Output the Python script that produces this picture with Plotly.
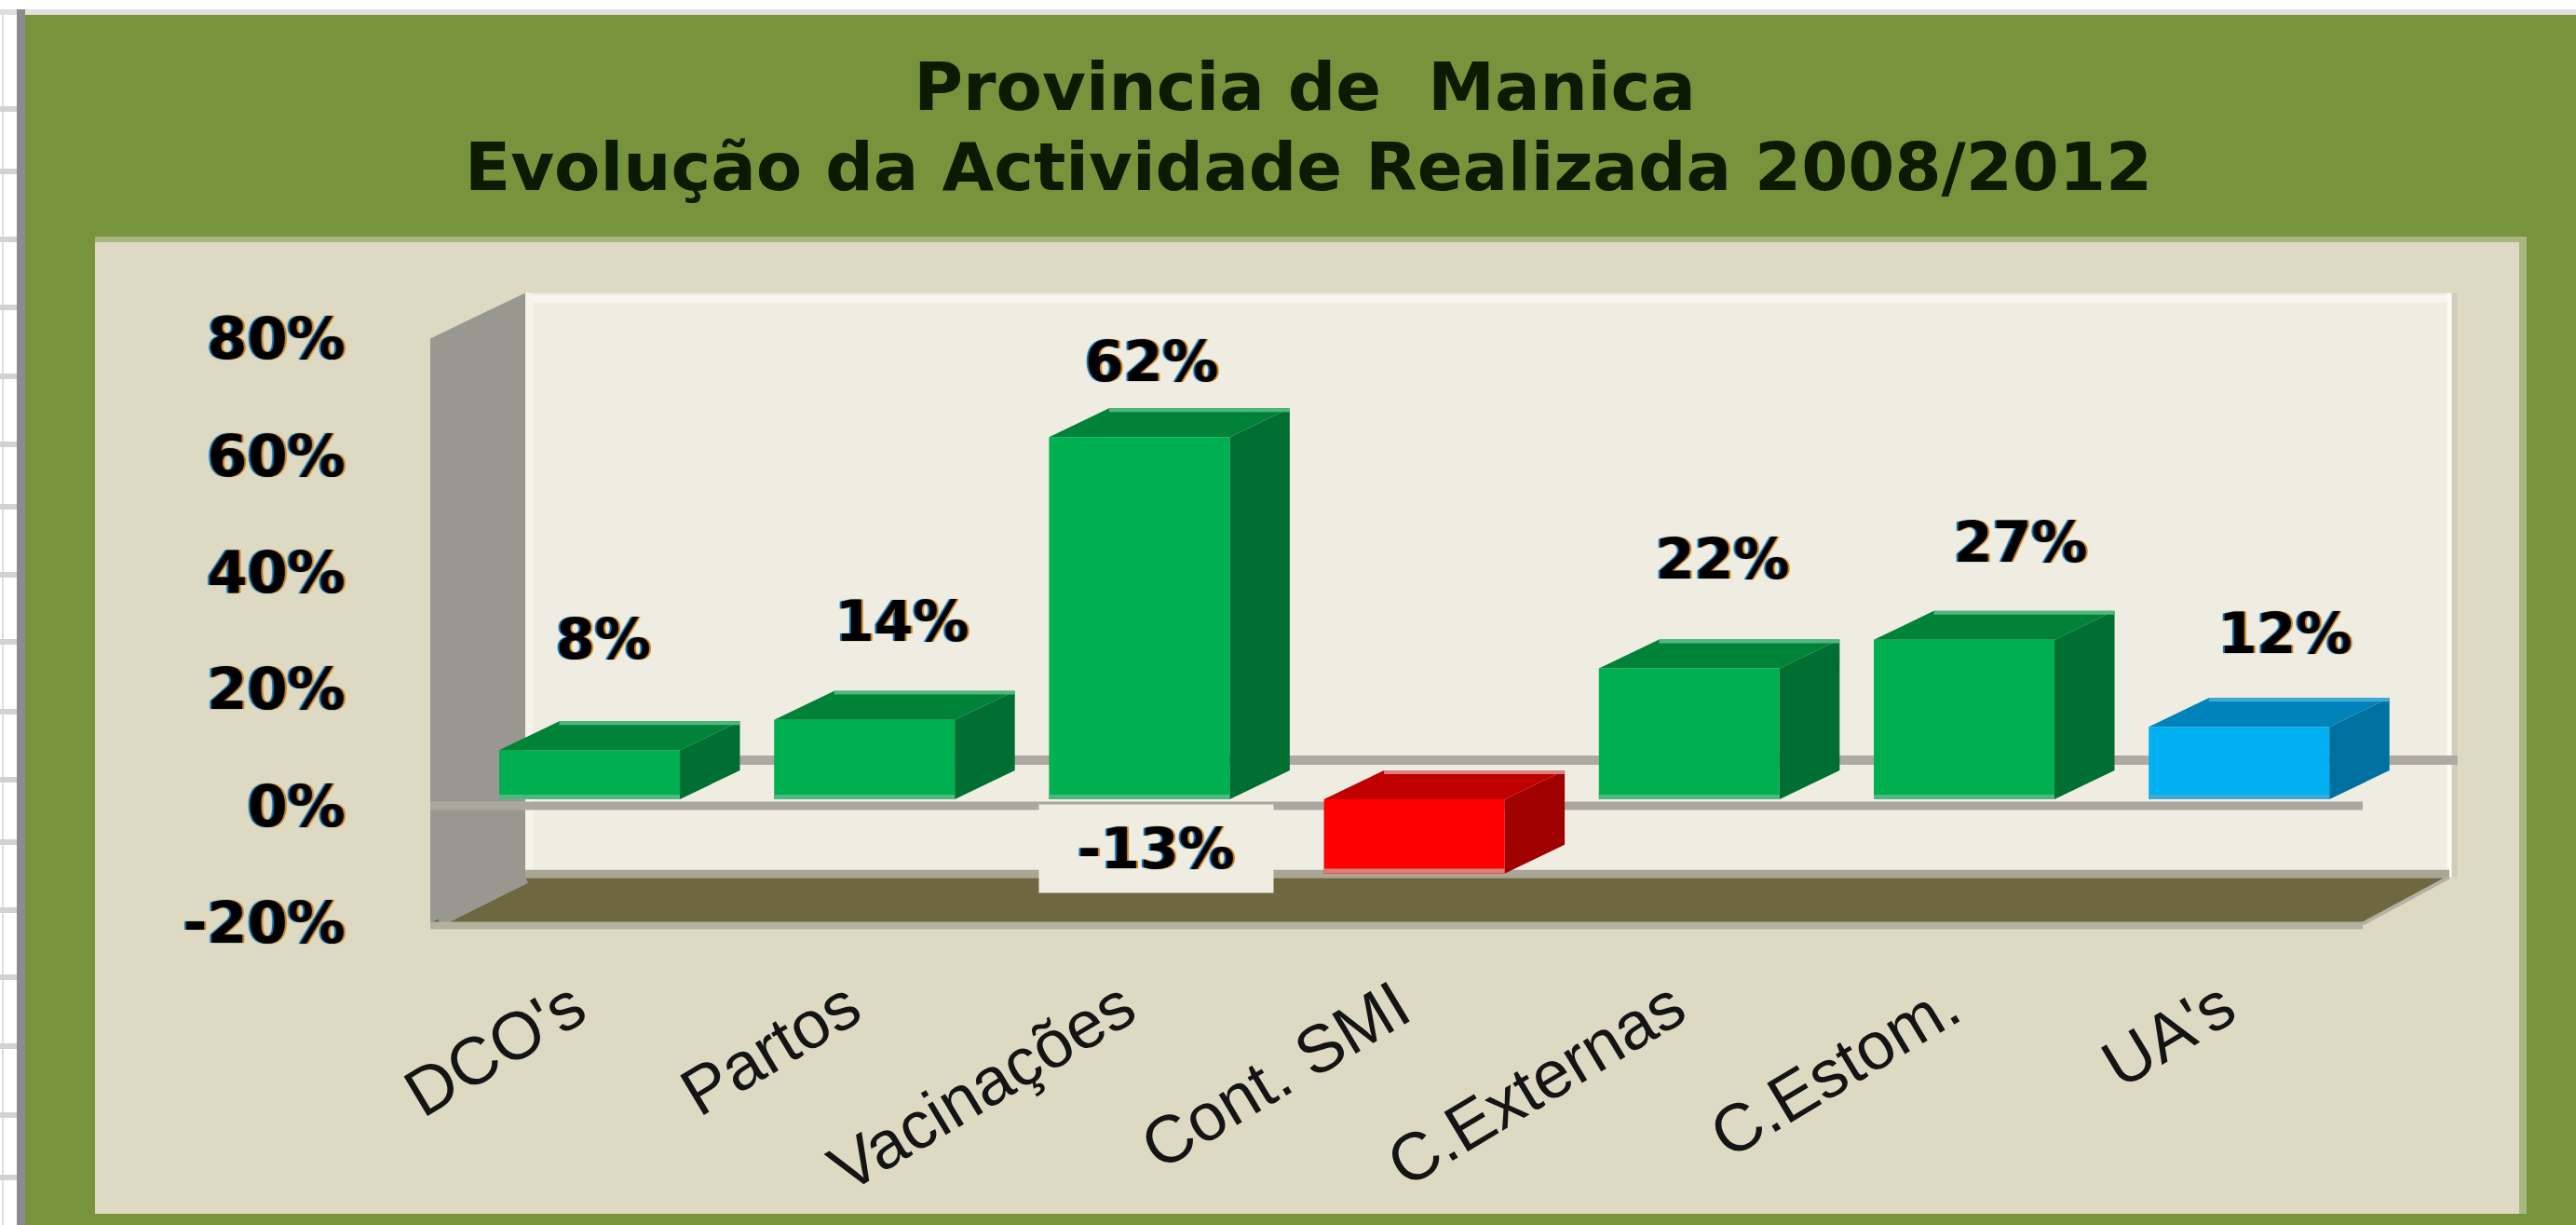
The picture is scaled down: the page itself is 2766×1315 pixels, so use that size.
import plotly.graph_objects as go

# ---- data -------------------------------------------------------------
categories = ["DCO's", "Partos", "Vacinações", "Cont. SMI", "C.Externas", "C.Estom.", "UA's"]
values = [8.4, 13.6, 62, -12.7, 22.4, 27.3, 12.4]
front_colors = ["#00b050", "#00b050", "#00b050", "#ff0000", "#00b050", "#00b050", "#00b0f0"]
top_colors = ["#008239", "#008239", "#008239", "#c00000", "#008239", "#008239", "#0082bb"]
side_colors = ["#006f31", "#006f31", "#006f31", "#a00000", "#006f31", "#006f31", "#0070a0"]
edge_colors = ["#4fb87e", "#4fb87e", "#4fb87e", "#d9807a", "#4fb87e", "#4fb87e", "#3fa8d4"]
y_ticks = [-20, 0, 20, 40, 60, 80]
y_tick_labels = ["-20%", "0%", "20%", "40%", "60%", "80%"]
title_lines = ["Provincia de  Manica", "Evolução da Actividade Realizada 2008/2012"]
label_xshift = [15, 41, 14, -277, 36, 61, 50]
label_yshift = [119, 106, 81, 27, 118, 105, 100]
sheet_grid_rows = [117, 184, 257, 330, 404, 477, 544, 617, 689, 764, 837, 904, 977, 1049, 1123, 1197, 1264]

# ---- geometry ----------------------------------------------------------
W, H = 2766, 1315
PITCH = 295.2      # px per category
CX0 = 633          # px of first category centre
PPU = 6.27         # px per percentage point
Y0_WALL = 865      # px of 0% in the front plane of the axes
Y0_BAR = 858       # px of 0% in the front plane of the bars
BAR_W = 194 / PITCH
BAR_DX, BAR_DY = 64.5 / PITCH, 31 / PPU
WALL_DX, WALL_DY = 102 / PITCH, 49 / PPU
X_LEFT = (462 - CX0) / PITCH
X_RIGHT = (2537 - CX0) / PITCH
YMIN, YMAX = y_ticks[0], y_ticks[-1]
TICK_SHIFT = 0.06

GREEN, PANEL, WALL, SIDE, FLOOR = "#77933c", "#ddd9c3", "#efede2", "#989890", "#6f6740"
TEXT_FRINGE = "2px 0 1px #c47a10, -2px 0 1px #0a6aa8"
TITLE_FONT = dict(family="DejaVu Sans", size=72, color="#0c1a02", weight="bold")


def px(a, b, c, d, color, layer="below"):
    return dict(type="rect", xref="paper", yref="paper", x0=a / W, x1=b / W,
                y0=1 - c / H, y1=1 - d / H, fillcolor=color, line_width=0, layer=layer)


def poly(xs, ys, color, yaxis="y"):
    return go.Scatter(x=xs + xs[:1], y=ys + ys[:1], mode="lines", fill="toself", fillcolor=color,
                      line=dict(width=0, color=color), hoverinfo="skip", showlegend=False,
                      xaxis="x", yaxis=yaxis)


def seg(x0, x1, y0, y1, color, width, yaxis="y"):
    return go.Scatter(x=[x0, x1], y=[y0, y1], mode="lines", line=dict(color=color, width=width),
                      hoverinfo="skip", showlegend=False, xaxis="x", yaxis=yaxis)


fig = go.Figure()

# chart walls, derived from the value axis limits
bx0, bx1 = X_LEFT + WALL_DX, X_RIGHT + (2630 - 2537 - 102) / PITCH + WALL_DX
fig.add_trace(poly([bx0, bx1, bx1, bx0], [YMIN + WALL_DY, YMIN + WALL_DY, YMAX + WALL_DY, YMAX + WALL_DY], WALL))
fig.add_trace(seg(bx0, bx1, YMAX + WALL_DY - 1, YMAX + WALL_DY - 1, "#f7f5ee", 8))
fig.add_trace(seg(bx1, bx1, YMIN + WALL_DY, YMAX + WALL_DY, "#fbfaf5", 5))
fig.add_trace(seg(bx1 + 0.02, bx1 + 0.02, YMIN + WALL_DY, YMAX + WALL_DY, "#d0cdbd", 6))
fig.add_trace(poly([X_LEFT, bx0, bx0, X_LEFT], [YMIN, YMIN + WALL_DY, YMAX + WALL_DY, YMAX], SIDE))
fig.add_trace(seg(bx0 + 0.014, bx0 + 0.014, YMIN + WALL_DY, YMAX + WALL_DY, "#f6f4ea", 8))
fig.add_trace(poly([X_LEFT, bx0, bx1, X_RIGHT], [YMIN, YMIN + WALL_DY, YMIN + WALL_DY, YMIN], FLOOR))
fig.add_trace(seg(X_LEFT + 0.03, bx0, YMIN + 0.4, YMIN + WALL_DY, SIDE, 14))
fig.add_trace(seg(bx0, bx1, YMIN + WALL_DY + 0.5, YMIN + WALL_DY + 0.5, "#aaa695", 9))
fig.add_trace(seg(X_LEFT, X_RIGHT, YMIN - 0.5, YMIN - 0.5, "#b5b1a0", 8))
fig.add_trace(seg(X_RIGHT, bx1, YMIN - 0.2, YMIN + WALL_DY, "#b5b1a0", 4))

# zero gridline on back wall and front plane
fig.add_trace(seg(bx0, bx1 + 0.03, WALL_DY, WALL_DY, "#aeaaa1", 10))
fig.add_trace(seg(X_LEFT, X_RIGHT, 0, 0, "#aba79f", 9))

# bars: sides and tops from the values
for i, v in enumerate(values):
    x0, x1 = i - BAR_W / 2, i + BAR_W / 2
    hi, lo = max(v, 0), min(v, 0)
    fig.add_trace(poly([x1, x1 + BAR_DX, x1 + BAR_DX, x1], [hi, hi + BAR_DY, lo + BAR_DY, lo], side_colors[i], "y2"))
    fig.add_trace(poly([x0, x1, x1 + BAR_DX, x0 + BAR_DX], [hi, hi, hi + BAR_DY, hi + BAR_DY], top_colors[i], "y2"))
    fig.add_trace(seg(x0 + BAR_DX, x1 + BAR_DX, hi + BAR_DY - 0.3, hi + BAR_DY - 0.3, edge_colors[i], 4, "y2"))
    fig.add_trace(seg(x0, x1, lo + 0.4, lo + 0.4, edge_colors[i], 5, "y2"))

fig.add_trace(go.Bar(x=list(range(len(categories))), y=values, width=BAR_W, marker=dict(color=front_colors, line_width=0),
                     xaxis="x", yaxis="y2", showlegend=False, hoverinfo="skip"))

# data labels
annotations = []
for i, v in enumerate(values):
    extra = dict(bgcolor=WALL, width=249, height=92, valign="middle") if v < 0 else {}
    annotations.append(dict(x=i, y=v, xref="x", yref="y2", text=f"{round(v)}%", showarrow=False,
                            xshift=label_xshift[i], yshift=label_yshift[i], xanchor="center", yanchor="middle",
                            font=dict(family="DejaVu Sans", size=60, color="#000000", weight="bold", shadow=TEXT_FRINGE), **extra))
annotations.append(dict(xref="paper", yref="paper", x=1405 / W, y=1 - 179 / H, text=title_lines[1], showarrow=False,
                        xanchor="center", yanchor="middle", font=TITLE_FONT))

shapes = [
    px(0, W, 0, H, "#ffffff"),
    px(0, W, 10, 16, "#dedede"),
    px(2, 4, 10, H, "#dedede"),
    px(18, 27, 10, H, "#8c8c8c"),
    px(27, W, 16, H, GREEN),
    px(102, 2713, 254, 1303, "#a7b77f"),
    px(102, 2705, 260, 1303, PANEL),
]
shapes += [px(0, 18, r - 3, r + 3, "#d2d2d2") for r in sheet_grid_rows]

fig.update_layout(
    width=W, height=H, margin=dict(l=0, r=0, t=0, b=0, pad=0), autosize=False,
    paper_bgcolor="#ffffff", plot_bgcolor="rgba(0,0,0,0)", showlegend=False, barmode="overlay",
    shapes=shapes, annotations=annotations,
    title=dict(text=title_lines[0], x=1401 / W, xanchor="center", y=1 - 93 / H, yanchor="middle", font=TITLE_FONT),
    xaxis=dict(domain=[0, 1], range=[(0 - CX0) / PITCH, (W - CX0) / PITCH], tickmode="array",
               tickvals=[i - TICK_SHIFT for i in range(len(categories))], ticktext=categories, tickangle=-31,
               showgrid=False, zeroline=False, showline=False, ticks="", anchor="free",
               position=1 - 991 / H, ticklabelstandoff=34,
               tickfont=dict(family="Liberation Sans", size=72, color="#141414")),
    yaxis=dict(domain=[0, 1], range=[(Y0_WALL - H) / PPU, Y0_WALL / PPU], tickmode="array",
               tickvals=y_ticks, ticktext=y_tick_labels, showgrid=False, zeroline=False, showline=False, ticks="",
               anchor="free", position=371 / W,
               tickfont=dict(family="DejaVu Sans", size=62, color="#000000", weight="bold", shadow=TEXT_FRINGE)),
    yaxis2=dict(domain=[0, 1], range=[(Y0_BAR - H) / PPU, Y0_BAR / PPU], overlaying="y", visible=False),
)

fig.write_html("out.html", config={"displayModeBar": False},
               post_script="document.body.style.margin='0';document.body.style.overflow='hidden';")
